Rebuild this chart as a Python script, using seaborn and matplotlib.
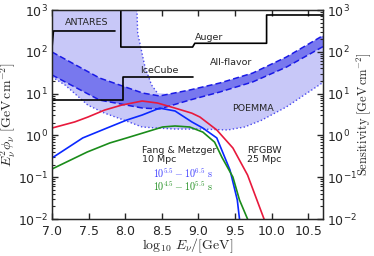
import numpy as np
import pandas as pd
import matplotlib
matplotlib.use("Agg")
import matplotlib.pyplot as plt
import seaborn as sns

sns.set_theme(style="ticks", context="paper")
plt.rcParams["font.family"] = ["DejaVu Sans"]
plt.rcParams["mathtext.fontset"] = "cm"

# All-flavor band (dashed edges)
band_x = [7.0, 7.65, 8.24, 8.47, 8.88, 9.29, 9.74, 10.20, 10.69, 10.75]
band_hi = [99, 23.6, 10.3, 8.8, 12.2, 17.9, 31, 75, 239, 260]
band_lo = [27.9, 7.0, 4.5, 4.3, 7.0, 10.9, 19, 43, 130, 142]

# POEMMA region (dotted edges)
poemma_lo_x = [7.0, 7.18, 7.49, 7.72, 7.99, 8.23, 8.44, 8.68, 9.02, 9.40, 9.63, 9.86, 10.20, 10.69, 10.75]
poemma_lo_y = [25, 16, 5.3, 3.4, 2.3, 1.59, 1.50, 1.42, 1.42, 1.35, 1.59, 2.3, 4.8, 18, 20]
poemma_hi_x = [7.0, 8.10, 8.16, 8.17, 8.27, 8.36, 8.44, 8.88, 9.29, 9.74, 10.20, 10.75]
poemma_hi_y = [1e4, 3000, 1000, 282, 43, 16, 10.3, 9.0, 14, 24, 57, 190]

# experiment limits
antares_x = [7.0, 7.02, 7.86]
antares_y = [124, 315, 315]
auger_x = [7.94, 7.94, 8.92, 8.95, 9.93, 9.93, 10.75]
auger_y = [2000, 130, 130, 160, 160, 760, 760]
icecube_x = [6.9, 7.97, 7.97, 8.93]
icecube_y = [7.0, 7.0, 25, 25]

# source models
rfgbw_x = [7.0, 7.31, 7.49, 7.72, 7.95, 8.23, 8.44, 8.68, 8.91, 9.02, 9.25, 9.47, 9.67, 9.90, 9.93]
rfgbw_y = [1.50, 2.1, 2.75, 4.05, 5.3, 6.65, 5.96, 4.5, 3.4, 2.75, 1.35, 0.50, 0.113, 0.0095, 0.007]
fm65_x = [7.0, 7.42, 7.75, 8.02, 8.23, 8.47, 8.68, 8.91, 9.06, 9.25, 9.43, 9.53, 9.56, 9.58]
fm65_y = [0.288, 0.87, 1.50, 2.33, 3.07, 4.5, 3.84, 2.1, 1.5, 0.87, 0.149, 0.0285, 0.01, 0.007]
fm55_x = [7.0, 7.48, 7.79, 8.02, 8.24, 8.51, 8.68, 8.88, 9.06, 9.22, 9.32, 9.47, 9.56, 9.67, 9.70]
fm55_y = [0.157, 0.40, 0.66, 0.87, 1.14, 1.59, 1.68, 1.59, 1.2, 0.69, 0.30, 0.101, 0.0285, 0.01, 0.007]

light = "#c8c8f8"
dark = "#7878ee"
edge = "#1a1ae6"

fig = plt.figure(figsize=(3.74, 2.56), dpi=100)
ax = fig.add_axes([0.139, 0.1445, 0.7246, 0.8164])

# POEMMA region
ax.fill(np.r_[poemma_hi_x, poemma_lo_x[::-1]], np.r_[poemma_hi_y, poemma_lo_y[::-1]],
        color=light, lw=0, zorder=1)
ax.plot(poemma_lo_x, poemma_lo_y, ls=":", color="#4a4af0", lw=1.0, zorder=2)
ax.plot(poemma_hi_x[:7], poemma_hi_y[:7], ls=":", color="#4a4af0", lw=1.0, zorder=2)

# All-flavor band
ax.fill(np.r_[band_x, band_x[::-1]], np.r_[band_hi, band_lo[::-1]],
        color=dark, lw=0, zorder=3)
ax.plot(band_x, band_hi, ls="--", color=edge, lw=1.1, dashes=(4, 2), zorder=4)
ax.plot(band_x, band_lo, ls="--", color=edge, lw=1.1, dashes=(4, 2), zorder=4)

# limits
for xs, ys in [(antares_x, antares_y), (auger_x, auger_y), (icecube_x, icecube_y)]:
    ax.plot(xs, ys, color="black", lw=1.2, zorder=5)

# models
models = pd.concat([
    pd.DataFrame({"x": rfgbw_x, "y": rfgbw_y, "m": "RFGBW"}),
    pd.DataFrame({"x": fm65_x, "y": fm65_y, "m": "FM65"}),
    pd.DataFrame({"x": fm55_x, "y": fm55_y, "m": "FM55"}),
], ignore_index=True)
sns.lineplot(data=models, x="x", y="y", hue="m", sort=False, estimator=None,
             palette={"RFGBW": "#e8193c", "FM65": "#0a28ff", "FM55": "#1a8c1a"},
             lw=1.2, legend=False, ax=ax, zorder=6)

ax.set_yscale("log")
ax.set_xlim(7.0, 10.7)
ax.set_ylim(1e-2, 1e3)
ax.set_xticks([7.0, 7.5, 8.0, 8.5, 9.0, 9.5, 10.0, 10.5])
ax.set_xticklabels(["7.0", "7.5", "8.0", "8.5", "9.0", "9.5", "10.0", "10.5"])
ax.tick_params(which="both", direction="in", top=True, right=False, labelsize=9, pad=3)
ax.tick_params(axis="x", pad=4)
ax.tick_params(which="major", length=4)
ax.tick_params(which="minor", length=2)
ax.set_xlabel(r"$\log_{10}\,E_\nu/[\mathrm{GeV}]$", fontsize=10, labelpad=-1)
ax.set_ylabel(r"$E_\nu^2\phi_\nu\ [\mathrm{GeV\,cm^{-2}}]$", fontsize=10, labelpad=0)

ax2 = ax.twinx()
ax2.set_yscale("log")
ax2.set_ylim(1e-2, 1e3)
ax2.tick_params(which="both", direction="in", labelsize=9, pad=3)
ax2.tick_params(which="major", length=4)
ax2.tick_params(which="minor", length=2)
ax2.set_ylabel(r"$\mathrm{Sensitivity}\ [\mathrm{GeV\,cm^{-2}}]$", fontsize=9)
ax2.yaxis.set_label_coords(1.115, 0.5)

for s in ax.spines.values():
    s.set_linewidth(0.8)
    s.set_zorder(10)

fs = 6.8
ax.text(7.48, 490, "ANTARES", fontsize=fs, ha="center", va="center", zorder=7)
ax.text(9.15, 226, "Auger", fontsize=fs, ha="center", va="center", zorder=7)
ax.text(8.47, 35, "IceCube", fontsize=fs, ha="center", va="center", zorder=7)
ax.text(9.45, 57, "All-flavor", fontsize=fs, ha="center", va="center", zorder=7)
ax.text(9.74, 4.5, "POEMMA", fontsize=fs, ha="center", va="center", zorder=7)
ax.text(8.23, 0.34, "Fang & Metzger\n10 Mpc", fontsize=fs, ha="left", va="center",
        linespacing=1.1, zorder=7)
ax.text(9.66, 0.34, "RFGBW\n25 Mpc", fontsize=fs, ha="left", va="center",
        linespacing=1.1, zorder=7)
ax.text(8.38, 0.125, r"$10^{5.5}-10^{6.5}\ \mathrm{s}$", fontsize=7.2, color="#3a3aff",
        ha="left", va="center", zorder=7)
ax.text(8.38, 0.06, r"$10^{4.5}-10^{5.5}\ \mathrm{s}$", fontsize=7.2, color="#1a8c1a",
        ha="left", va="center", zorder=7)

fig.savefig("out.png", dpi=100)
